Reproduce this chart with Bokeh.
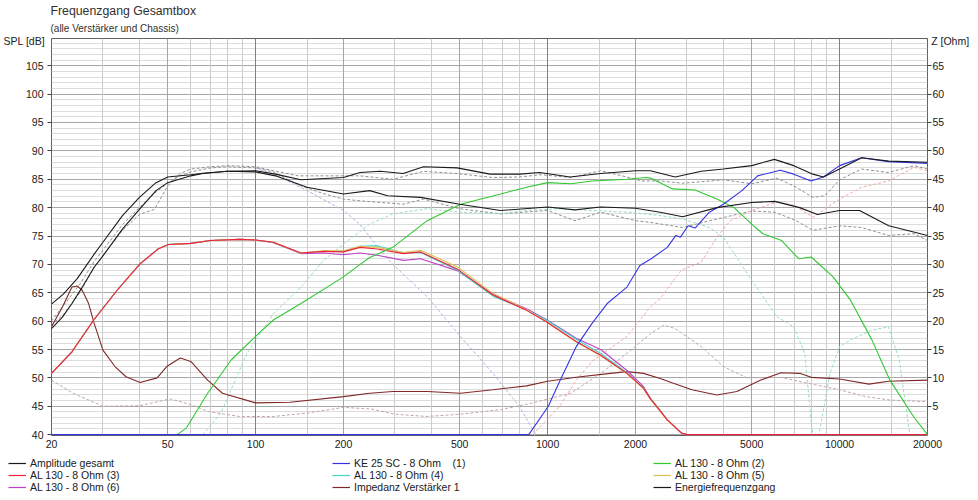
from bokeh.plotting import figure
from bokeh.models import (Range1d, LinearAxis, FixedTicker, Grid, Legend,
                          LegendItem, PrintfTickFormatter, Title)
from bokeh.embed import file_html
from bokeh.resources import INLINE

FONT = "Liberation Sans"

# ---------------- axes / ticks ----------------
x_ticks = [20, 50, 100, 200, 500, 1000, 2000, 5000, 10000, 20000]
x_dark = [100, 1000, 10000]
x_mid = [50, 200, 500, 2000, 5000]
x_light = [30, 40, 60, 70, 80, 90, 150, 300, 400, 600, 700, 800, 900, 1500,
           3000, 4000, 6000, 7000, 8000, 9000, 15000]
spl_ticks = list(range(40, 110, 5))
spl_minor = [v for v in range(41, 110) if v % 5 != 0]
z_ticks = list(range(5, 70, 5))

# ---------------- series (SPL in dB, impedance in Ohm) ----------------
f_amp = [20, 22, 24.5, 28, 30, 35, 40, 45.6, 50, 60, 66, 80, 100, 117, 143, 200, 228, 267,
         320, 376, 490, 635, 804, 940, 1195, 1520, 2000, 2250, 2735, 3360, 4000, 5000, 5980,
         6970, 8100, 8800, 10000, 11900, 14730, 20000]
spl_amp = [63.0, 64.8, 67.5, 71.8, 73.9, 78.6, 81.8, 84.4, 85.4, 85.8, 86.05, 86.4, 86.5, 85.9,
           84.9, 85.3, 86.2, 86.4, 86.0, 87.2, 87.0, 85.9, 85.9, 86.2, 85.4, 86.0, 86.5, 86.5,
           85.4, 86.4, 86.8, 87.4, 88.5, 87.4, 85.9, 85.4, 86.8, 88.8, 88.2, 88.0]

f_energy = [20, 21.8, 23.5, 25.5, 28, 30, 35, 40, 45.6, 50, 60, 66, 80, 100, 117, 150, 200, 246,
            283, 367, 500, 690, 1000, 1240, 1520, 2000, 2430, 2900, 3800, 5000, 6000, 7300, 8400,
            10000, 11700, 14730, 20000]
spl_energy = [58.7, 60.7, 63.1, 66.0, 69.5, 71.5, 76.2, 79.7, 83.0, 84.4, 85.6, 86.0, 86.4, 86.3,
              85.6, 83.6, 82.4, 83.0, 82.1, 81.8, 80.6, 79.5, 80.1, 79.6, 80.1, 79.9, 79.2, 78.4,
              80.0, 80.9, 81.1, 80.0, 78.8, 79.5, 79.5, 76.8, 75.1]

f_ke25 = [20, 862, 1006, 1104, 1253, 1420, 1600, 1870, 2070, 2250, 2570, 2750, 2850, 3030, 3200,
          3580, 4000, 4630, 5240, 6270, 6970, 7980, 8800, 10000, 11900, 14700, 20000]
spl_ke25 = [40, 40, 45.0, 49.6, 55.5, 59.6, 63.1, 66.0, 69.8, 70.9, 73.0, 75.1, 74.8, 76.8, 76.4,
            79.2, 80.6, 83.0, 85.6, 86.6, 85.9, 84.7, 85.4, 87.4, 88.8, 88.1, 87.8]

f_al2 = [53.9, 58, 68.5, 82.6, 100, 115, 143, 200, 228, 246, 295, 387, 503, 690, 847, 1000, 1200,
         1420, 1870, 2175, 2250, 2680, 3200, 3800, 4350, 5000, 5460, 6330, 7240, 8000, 9500,
         10900, 12900, 14870, 17900, 20000]
spl_al2 = [40, 41.2, 47.3, 53.2, 57.3, 60.2, 63.1, 67.8, 70.0, 71.2, 73.0, 77.7, 80.6, 82.4, 83.6,
           84.4, 84.2, 84.7, 85.0, 85.3, 85.2, 83.3, 83.1, 81.5, 80.0, 77.1, 75.4, 74.2, 71.0,
           71.3, 67.8, 63.7, 56.7, 49.6, 43.2, 40]

f_al = [20, 23.5, 27.9, 33.5, 40.2, 46.3, 50.3, 60, 70, 88, 100, 115, 143, 171, 200, 228, 261,
        321, 367, 490, 650, 847, 990, 1253, 1520, 1870, 2130, 2250, 2430, 2570, 2870, 3000, 20000]
spl_al3 = [50.8, 54.6, 60.2, 65.4, 70.1, 72.7, 73.5, 73.7, 74.2, 74.4, 74.3, 73.9, 72.0, 72.3,
           72.2, 73.0, 72.7, 71.9, 72.2, 69.2, 64.6, 61.9, 59.9, 56.4, 54.0, 50.8, 48.2, 46.3,
           44.2, 42.6, 40.3, 40, 40]
spl_al4 = [50.8, 54.6, 60.2, 65.4, 70.1, 72.7, 73.5, 73.7, 74.2, 74.4, 74.3, 73.9, 72.0, 72.3,
           72.3, 73.2, 73.3, 72.0, 72.1, 69.0, 64.4, 62.0, 60.2, 56.8, 54.3, 50.9, 48.3, 46.4,
           44.3, 42.6, 40.3, 40, 40]
spl_al5 = [50.8, 54.6, 60.2, 65.4, 70.1, 72.7, 73.5, 73.7, 74.2, 74.4, 74.3, 73.9, 72.0, 72.4,
           72.4, 73.2, 73.0, 72.1, 72.5, 69.6, 64.9, 62.0, 59.9, 56.3, 53.9, 50.7, 48.1, 46.2,
           44.1, 42.5, 40.3, 40, 40]
spl_al6 = [50.8, 54.6, 60.2, 65.4, 70.1, 72.7, 73.5, 73.7, 74.2, 74.4, 74.3, 73.8, 71.9, 72.0,
           71.7, 72.0, 71.6, 70.7, 71.0, 68.9, 64.7, 62.2, 60.3, 57.0, 55.0, 51.3, 48.5, 46.4,
           44.2, 42.6, 40.3, 40, 40]

f_imp = [20, 21.8, 23.5, 24.5, 25.5, 26.8, 28, 30, 33, 36, 40.2, 46, 49.6, 55.2, 60, 68.5, 77,
         100, 131, 200, 246, 295, 387, 503, 650, 847, 1000, 1253, 1640, 1870, 2130, 2430, 2680,
         3120, 3800, 4450, 5350, 6300, 7300, 8000, 10000, 12600, 14700, 20000]
z_imp = [19.0, 22.5, 26.0, 26.2, 25.4, 23.1, 19.6, 14.9, 12.0, 10.2, 9.2, 10.0, 12.0, 13.5, 12.9,
         9.6, 7.3, 5.6, 5.7, 6.7, 7.3, 7.6, 7.6, 7.3, 7.9, 8.6, 9.4, 10.1, 10.8, 11.1, 10.8, 9.9,
         9.1, 7.9, 7.0, 7.6, 9.6, 10.9, 10.8, 10.1, 9.8, 8.9, 9.4, 9.6]

# reference (dashed) curves, not in the legend
f_imp_ref = [20, 23.7, 30, 40, 51, 60, 68.5, 88, 115, 150, 200, 250, 300, 387, 503, 690, 890,
             1200, 1520, 1870, 2250, 2500, 2735, 3360, 4000, 4820, 6300, 7240, 10000, 12300,
             14870, 20000]
z_imp_ref = [9.6, 7.3, 5.0, 5.1, 6.3, 5.3, 4.1, 3.2, 3.2, 3.8, 4.8, 4.5, 3.6, 3.2, 3.6, 4.4, 5.6,
             7.3, 10.8, 14.3, 17.8, 19.3, 18.7, 15.5, 12.0, 10.0, 10.1, 9.4, 7.9, 6.7, 6.1, 5.8]

f_amp_ref = [20, 22, 25, 28, 30, 35, 40, 45, 50, 55, 60, 70, 80, 100, 115, 140, 200, 228, 295,
             376, 490, 650, 800, 950, 1200, 1520, 1800, 2100, 2430, 2900, 4000, 5000, 6100, 7100,
             8100, 8900, 10000, 11900, 14700, 18000, 20000]
spl_amp_ref = [59.3, 61.2, 65.0, 69.5, 71.5, 76.0, 78.8, 79.7, 83.8, 86.0, 86.8, 87.2, 87.4, 87.2,
               86.5, 85.6, 85.6, 85.6, 85.0, 86.4, 86.0, 85.3, 85.4, 85.8, 85.3, 86.5, 85.6, 84.7,
               84.7, 84.3, 84.9, 84.2, 85.2, 83.6, 81.8, 82.1, 84.9, 86.8, 86.2, 87.4, 86.8]

f_energy_ref = [20, 25, 28, 30, 35, 40, 45, 50, 55, 60, 70, 80, 100, 115, 140, 170, 200, 228, 320,
                376, 500, 690, 1000, 1240, 1520, 2000, 2250, 2900, 3800, 5000, 6000, 7100, 8100,
                10000, 11900, 14700, 18000, 20000]
spl_energy_ref = [60.0, 66.5, 70.5, 72.5, 77.0, 80.0, 82.5, 84.3, 85.6, 86.3, 87.0, 87.2, 87.0,
                  86.3, 84.0, 82.5, 81.5, 81.2, 80.6, 81.5, 79.8, 78.9, 79.5, 77.7, 79.2, 77.7,
                  77.4, 76.5, 78.0, 79.4, 79.2, 77.7, 76.0, 76.8, 76.5, 75.1, 75.4, 74.2]

f_wf_ref = [100, 120, 150, 200, 228, 270, 295, 387, 503, 650, 800, 910]
spl_wf_ref = [87.0, 85.5, 83.0, 79.5, 77.0, 72.2, 70.0, 64.3, 57.3, 50.8, 45.0, 40.0]

f_al2_ref = [66, 76, 93.4, 115, 143, 171, 200, 246, 295, 387, 500, 690, 847, 1100, 1420, 1870,
             2430, 2900, 3580, 4000, 5000, 6100, 6970, 7600, 8000, 8100, 8500, 9270, 10000,
             10900, 12900, 14700, 16000, 17400]
spl_al2_ref = [40, 43.8, 54.3, 61.3, 66.0, 70.7, 73.6, 77.1, 78.9, 79.8, 79.2, 78.9, 79.5, 79.8,
               79.5, 79.2, 78.6, 78.0, 76.5, 74.8, 67.2, 60.8, 59.0, 54.3, 42.0, 40.0, 40.0, 50.8,
               55.5, 56.7, 58.4, 59.0, 53.2, 40.0]

f_tw_ref = [890, 1100, 1253, 1420, 1870, 2250, 2430, 2870, 3360, 3800, 4230, 5000, 6100, 6970,
            8100, 10000, 11900, 14700, 18000, 20000]
spl_tw_ref = [40, 45.0, 49.6, 52.9, 57.3, 62.5, 64.0, 69.0, 70.4, 74.8, 77.7, 79.5, 81.0, 80.4,
              78.3, 81.5, 83.6, 84.7, 87.1, 86.5]

# legend columns (label, colour)
legend_col1 = [("Amplitude gesamt", "#1a1a1a"), ("AL 130 - 8 Ohm (3)", "#f0203c"),
               ("AL 130 - 8 Ohm (6)", "#c040c8")]
legend_col2 = [("KE 25 SC - 8 Ohm    (1)", "#3434e6"), ("AL 130 - 8 Ohm (4)", "#40d8c8"),
               ("Impedanz Verstärker 1", "#802828")]
legend_col3 = [("AL 130 - 8 Ohm (2)", "#30c830"), ("AL 130 - 8 Ohm (5)", "#e0c050"),
               ("Energiefrequenzgang", "#1a1a1a")]

# ---------------- main figure ----------------
p = figure(width=978, height=455, title=None, x_axis_type="log",
           x_range=Range1d(20, 20000), y_range=Range1d(39.85, 109.8),
           output_backend="svg", toolbar_location=None,
           min_border_left=51, min_border_right=51, min_border_top=38, min_border_bottom=20)
p.extra_y_ranges = {"z": Range1d(-0.15, 69.8)}
p.background_fill_color = "white"
p.border_fill_color = "white"
p.outline_line_color = "#606060"
p.outline_line_width = 1

# grids: horizontal first, vertical lines drawn over them
p.xgrid.visible = False
p.ygrid.ticker = FixedTicker(ticks=spl_ticks, minor_ticks=spl_minor)
p.ygrid.grid_line_color = "#a8a8a8"
p.ygrid.minor_grid_line_color = "#dcdcdc"
p.add_layout(Grid(dimension=0, ticker=FixedTicker(ticks=x_light), grid_line_color="#cccccc"))
p.add_layout(Grid(dimension=0, ticker=FixedTicker(ticks=x_mid), grid_line_color="#a4a4a4"))
p.add_layout(Grid(dimension=0, ticker=FixedTicker(ticks=x_dark), grid_line_color="#808080"))

# x axis
xa = p.xaxis[0]
xa.ticker = FixedTicker(ticks=x_ticks)
xa.formatter = PrintfTickFormatter(format="%d")
xa.major_tick_line_color = None
xa.minor_tick_line_color = None
xa.major_tick_out = 0
xa.major_tick_in = 0
xa.axis_line_color = None
xa.major_label_standoff = 4
xa.major_label_text_font = FONT
xa.major_label_text_font_size = "10.5px"
xa.major_label_text_color = "#202020"

# left axis
ya = p.yaxis[0]
ya.ticker = FixedTicker(ticks=spl_ticks)
ya.minor_tick_line_color = None
ya.major_tick_line_color = "#404040"
ya.major_tick_out = 4
ya.major_tick_in = 0
ya.axis_line_color = None
ya.major_label_standoff = 4
ya.major_label_text_font = FONT
ya.major_label_text_font_size = "10.5px"
ya.major_label_text_color = "#202020"
ya.axis_label = "\nSPL [dB]"
ya.axis_label_orientation = "horizontal"
ya.axis_label_align = "end"
ya.axis_label_standoff = -22
ya.axis_label_text_font = FONT
ya.axis_label_text_font_size = "10.5px"
ya.axis_label_text_font_style = "normal"
ya.axis_label_text_color = "#202020"
ya.axis_label_text_line_height = 0.4

# right axis
za = LinearAxis(y_range_name="z", ticker=FixedTicker(ticks=z_ticks))
za.minor_tick_line_color = None
za.major_tick_line_color = "#404040"
za.major_tick_out = 4
za.major_tick_in = 0
za.axis_line_color = None
za.major_label_standoff = 1
za.major_label_text_font = FONT
za.major_label_text_font_size = "10.5px"
za.major_label_text_color = "#202020"
za.axis_label = "\nZ [Ohm]"
za.axis_label_orientation = "horizontal"
za.axis_label_align = "end"
za.axis_label_standoff = -16
za.axis_label_text_font = FONT
za.axis_label_text_font_size = "10.5px"
za.axis_label_text_font_style = "normal"
za.axis_label_text_color = "#202020"
za.axis_label_text_line_height = 0.4
p.add_layout(za, "right")

# titles
sub = Title(text="(alle Verstärker und Chassis)", align="left", offset=-1, standoff=10,
            text_font=FONT, text_font_size="10px", text_font_style="normal",
            text_color="#303030")
main = Title(text="Frequenzgang Gesamtbox", align="left", offset=-1, standoff=-5,
             text_font=FONT, text_font_size="12.3px", text_font_style="normal",
             text_color="#303030")
p.add_layout(sub, "above")
p.add_layout(main, "above")

# reference (dashed) curves
DASH = "3 2"
p.line(f_imp_ref, z_imp_ref, y_range_name="z", line_color="#c0a4ac", line_width=1, line_dash=DASH)
p.line(f_amp_ref, spl_amp_ref, line_color="#909090", line_width=1, line_dash=DASH)
p.line(f_energy_ref, spl_energy_ref, line_color="#909090", line_width=1, line_dash=DASH)
p.line(f_wf_ref, spl_wf_ref, line_color="#a8b4e0", line_width=1, line_dash=DASH)
p.line(f_al2_ref, spl_al2_ref, line_color="#98dcc4", line_width=1, line_dash=DASH)
p.line(f_tw_ref, spl_tw_ref, line_color="#f0a8a8", line_width=1, line_dash=DASH)

# main curves
p.line(f_imp, z_imp, y_range_name="z", line_color="#802828", line_width=1.1)
p.line(f_al, spl_al6, line_color="#c040c8", line_width=1.1)
p.line(f_al, spl_al4, line_color="#40d8c8", line_width=1.1)
p.line(f_al, spl_al5, line_color="#e0c050", line_width=1.1)
p.line(f_al, spl_al3, line_color="#f0203c", line_width=1.1)
p.line(f_al2, spl_al2, line_color="#30c830", line_width=1.1)
p.line(f_ke25, spl_ke25, line_color="#3434e6", line_width=1.1)
p.line(f_energy, spl_energy, line_color="#1a1a1a", line_width=1.1)
p.line(f_amp, spl_amp, line_color="#1a1a1a", line_width=1.1)

# ---------------- legend strip below (separate root, no frame alignment) ----------------
lf = figure(width=978, height=45, x_range=Range1d(0, 1), y_range=Range1d(0, 1),
            x_axis_location=None, y_axis_location=None,
            output_backend="svg", toolbar_location=None,
            min_border_left=0, min_border_right=0, min_border_top=0, min_border_bottom=0)
lf.grid.visible = False
lf.outline_line_color = None
lf.background_fill_color = "white"
lf.border_fill_color = "white"

for col, vx in ((legend_col1, 8), (legend_col2, 332), (legend_col3, 653)):
    items = []
    for label, color in col:
        # swatch renderer: its data lies outside the strip's visible range
        r = lf.line([2, 3], [2, 2], line_color=color, line_width=1.2)
        items.append(LegendItem(label=label, renderers=[r]))
    lg = Legend(items=items, location=(vx, 7.5), orientation="vertical",
                label_text_font=FONT, label_text_font_size="10.5px",
                label_text_color="#202020", label_height=12, glyph_height=12,
                glyph_width=18, label_standoff=4, spacing=0, padding=0, margin=0,
                border_line_color=None, background_fill_alpha=0)
    lf.add_layout(lg)

open("out.html", "w").write(file_html([p, lf], INLINE))
